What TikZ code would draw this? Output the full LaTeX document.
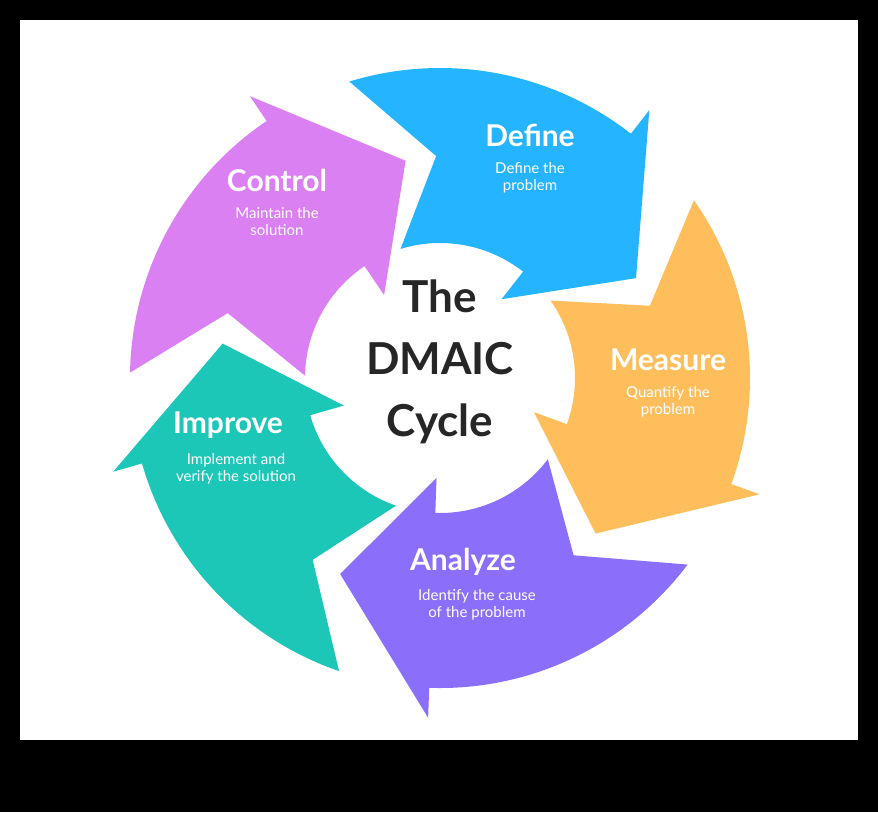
\documentclass[tikz,border=0pt]{standalone}
\usepackage{fontspec}
\setmainfont{Lato}
\definecolor{cdef}{HTML}{25B4FF}
\definecolor{cmea}{HTML}{FFBE5C}
\definecolor{cana}{HTML}{8B6EFA}
\definecolor{cimp}{HTML}{1DC7B8}
\definecolor{ccon}{HTML}{DB80F3}
\newcommand\dmaicarrow[2]{%
\fill[#1] ({#2+40}:310) arc[start angle=#2+40, end angle=#2-15, radius=310]
  -- ({#2-15}:340) -- ({#2-40}:220) -- ({#2-15}:100) -- ({#2-15}:135)
  arc[start angle=#2-15, end angle=#2+40, radius=135] -- ({#2+24}:222) -- cycle;}
\begin{document}
\begin{tikzpicture}[x=1pt,y=1pt,
  ttl/.style={text=white,font=\bfseries\fontsize{30}{32}\selectfont,inner sep=0},
  sub/.style={text=white,font=\fontsize{15}{17}\selectfont,align=center,inner sep=0},
  ctr/.style={text=black!85,font=\bfseries\fontsize{44}{62}\selectfont,align=center,inner sep=0}]
\fill[black] (0,0) rectangle (878,-812);
\fill[white] (20,-20) rectangle (858,-740);
\begin{scope}[shift={(440,-378)}]
\dmaicarrow{cdef}{67}
\dmaicarrow{cmea}{-5}
\dmaicarrow{cana}{-77}
\dmaicarrow{cimp}{-149}
\dmaicarrow{ccon}{139}
\end{scope}
\node[ttl] (tdef) at (530,-135) {Define};
\node[sub] (sdef) at (530,-178) {Define the\\problem};
\node[ttl] (tmea) at (668,-360) {Measure};
\node[sub] (smea) at (668,-402) {Quantify the\\problem};
\node[ttl] (tana) at (463,-562) {Analyze};
\node[sub] (sana) at (477,-605) {Identify the cause\\of the problem};
\node[ttl] (timp) at (228,-425) {Improve};
\node[sub] (simp) at (236,-469) {Implement and\\verify the solution};
\node[ttl] (tcon) at (277,-180) {Control};
\node[sub] (scon) at (277,-222) {Maintain the\\solution};
\node[ctr] (ctr) at (440,-362) {The\\DMAIC\\Cycle};
\end{tikzpicture}
\end{document}
